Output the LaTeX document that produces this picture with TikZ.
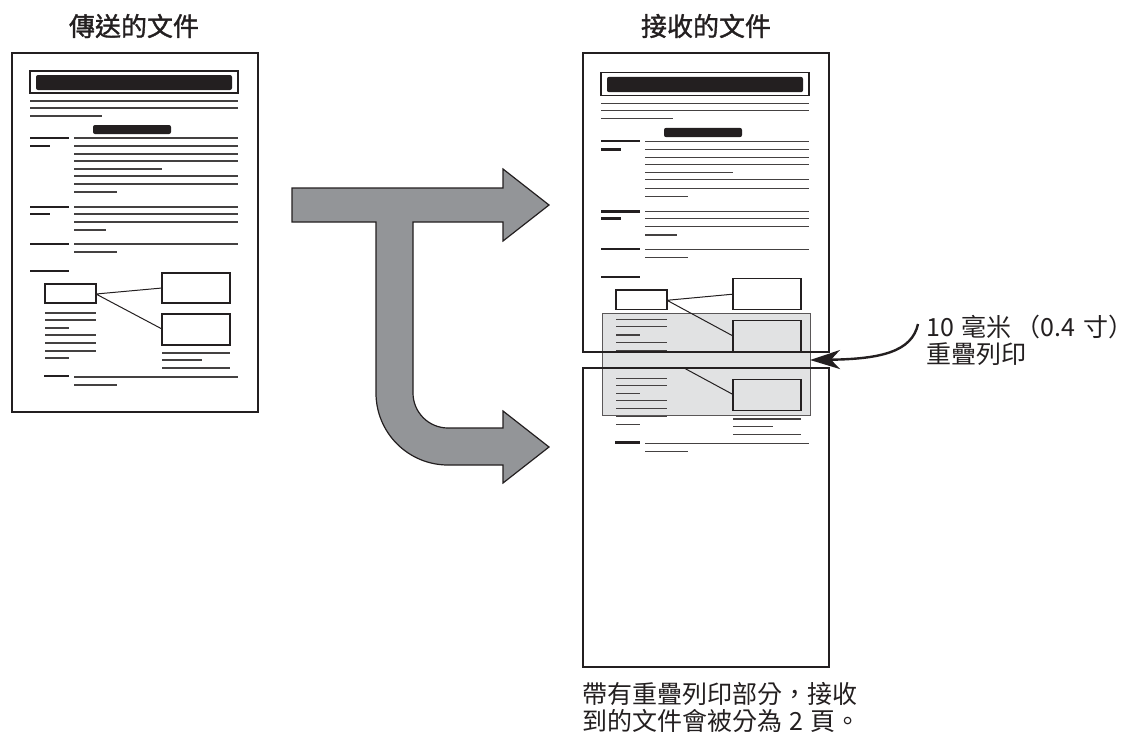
\documentclass[tikz,border=0pt]{standalone}
\usepackage{fontspec}
\usepackage{tikz}
\usetikzlibrary{arrows.meta}
\newfontfamily\cjk{Noto Sans CJK TC}
\newfontfamily\cjkttl{Noto Sans CJK TC}[FakeBold=1.3]
\definecolor{clrInk}     {HTML}{231F20}
\definecolor{clrArrow}   {HTML}{939598}
\definecolor{clrOverlap} {HTML}{E1E2E3}

% one sample page, drawn at the place of the sent page
\newcommand{\faxdoc}{%
  \draw[figbox] (30,71) rectangle (238,93);
  \fill[bar] (36,75) rectangle (232,90);
  \draw[txt] (30,101)--(238,101) (30,108)--(238,108) (30,116)--(102,116);
  \fill[bar] (93,125) rectangle (171,134);
  % section 1
  \draw[head] (30,138)--(69,138) (30,146)--(50,146);
  \draw[txt] (74,138)--(238,138) (74,146)--(238,146) (74,154)--(238,154)
    (74,161)--(238,161) (74,169)--(162,169) (74,176)--(238,176)
    (74,184)--(238,184) (74,192)--(117,192);
  % section 2
  \draw[head] (30,207)--(69,207) (30,214)--(50,214);
  \draw[txt] (74,207)--(238,207) (74,214)--(238,214) (74,222)--(238,222)
    (74,230)--(106,230);
  % section 3
  \draw[head] (30,244)--(69,244);
  \draw[txt] (74,244)--(238,244) (74,252)--(117,252);
  % section 4 with small chart
  \draw[head] (30,271)--(69,271);
  \draw[figbox] (45,284) rectangle (96,303);
  \draw[figbox] (162,273) rectangle (230,303);
  \draw[figbox] (162,314) rectangle (230,345);
  \draw[link] (96,294)--(162,288) (96,294)--(162,329);
  \draw[txt] (45,313)--(96,313) (45,320)--(96,320) (45,328)--(69,328)
    (45,335)--(96,335) (45,343)--(96,343) (45,351)--(96,351)
    (45,358)--(69,358);
  \draw[txt] (162,353)--(230,353) (162,360)--(202,360) (162,368)--(230,368);
  % last line
  \draw[head] (44,376)--(69,376);
  \draw[txt] (74,377)--(238,377) (74,385)--(117,385);
}

\begin{document}
\begin{tikzpicture}[x={(1pt,0)}, y={(0,-1pt)},
  page/.style={draw=clrInk, line width=1.8pt},
  txt/.style={draw=clrInk!85, line width=1.1pt},
  head/.style={draw=clrInk, line width=2.4pt},
  bar/.style={fill=clrInk, rounded corners=2pt},
  figbox/.style={draw=clrInk, line width=1.2pt},
  link/.style={draw=clrInk, line width=1pt},
  ttl/.style={font=\cjkttl\fontsize{26}{30}\selectfont, text=clrInk},
  lbl/.style={font=\cjk\fontsize{25}{27}\selectfont, text=clrInk,
              align=left, inner sep=0pt},
  ovbox/.style={fill=clrOverlap, draw=clrInk!75, line width=0.8pt,
                inner sep=0pt, outer sep=0pt},
  bigarr/.style={fill=clrArrow, draw=clrInk, line width=1.2pt,
                 line join=miter},
  ovarr/.style={draw=clrInk, line width=2.4pt,
                -{Stealth[length=30pt, width=19pt, inset=9pt]}},
]
\useasboundingbox (0,0) rectangle (1135,748);

% titles
\node[ttl] (srctitle) at (134,26) {傳送的文件};
\node[ttl] (rcvtitle) at (706,26) {接收的文件};

% sent page
\faxdoc
\draw[page] (12,53) rectangle (258,412);

% split arrow
\draw[bigarr] (292,188) -- (503,188) -- (503,169) -- (549,205) -- (503,241)
  -- (503,222) -- (413,222) -- (413,393)
  .. controls (413,412.3) and (428.7,428) .. (448,428)
  -- (503,428) -- (503,411) -- (549,447) -- (503,483) -- (503,465)
  -- (448,465) .. controls (408.2,465) and (376,432.8) .. (376,393)
  -- (376,222) -- (292,222) -- cycle;

% overlap band
\node[ovbox, minimum width=208pt, minimum height=102pt]
  (overlap) at (706,364) {};

% received page 1
\begin{scope}
  \clip (583,53) rectangle (829,352);
  \begin{scope}[shift={(571,0.4)}, yscale=1.02]
    \faxdoc
  \end{scope}
\end{scope}
\draw[page] (583,53) rectangle (829,352);

% received page 2
\begin{scope}
  \clip (583,368) rectangle (829,667);
  \begin{scope}[shift={(571,58.9)}, yscale=1.02]
    \faxdoc
  \end{scope}
\end{scope}
\draw[page] (583,368) rectangle (829,667);

% overlap label
\node[lbl, anchor=west] (ovlabel) at (926,340)
  {10\hspace{8pt}毫米\hspace{4pt}（0.4\hspace{8pt}寸）\\重疊列印};
\coordinate (ovstart) at (918,324);
\draw[ovarr] (ovstart) .. controls (912,352) and (880,359)
  .. ([yshift=4pt]overlap.east);

% note
\node[lbl, anchor=west] (note) at (582,707)
  {帶有重疊列印部分，接收\\到的文件會被分為\hspace{7pt}2\hspace{7pt}頁。};
\end{tikzpicture}
\end{document}
